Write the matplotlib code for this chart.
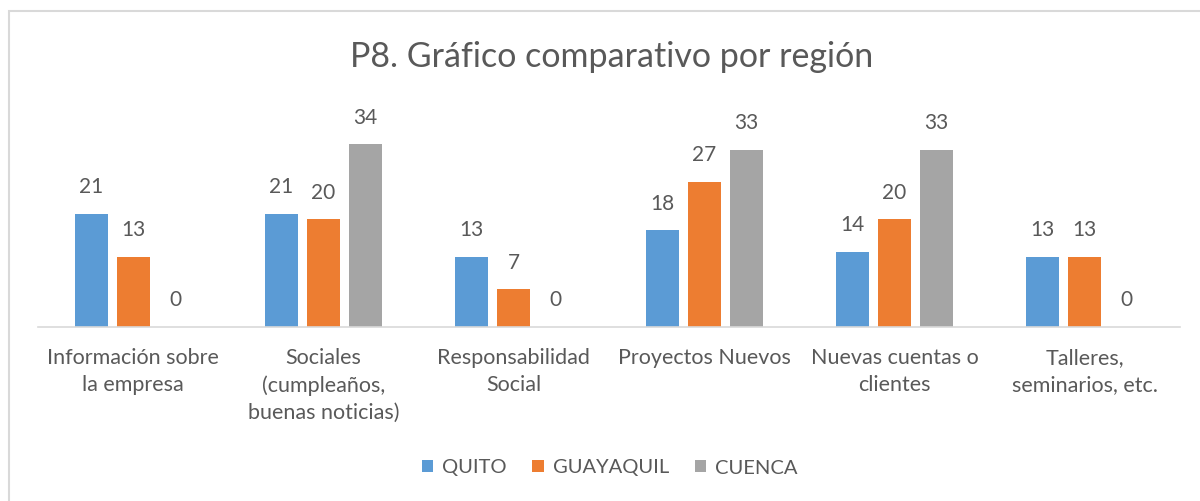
import matplotlib.pyplot as plt
import numpy as np
from matplotlib.patches import Rectangle

categorias = ['Información sobre\nla empresa', 'Sociales\n(cumpleaños,\nbuenas noticias)',
              'Responsabilidad\nSocial', 'Proyectos Nuevos', 'Nuevas cuentas o\nclientes',
              'Talleres,\nseminarios, etc.']
quito = [21, 21, 13, 18, 14, 13]
guayaquil = [13, 20, 7, 27, 20, 13]
cuenca = [0, 34, 0, 33, 33, 0]
series = ['QUITO', 'GUAYAQUIL', 'CUENCA']
colores = ['#5B9BD5', '#ED7D31', '#A5A5A5']

plt.rcParams['font.family'] = ['Lato', 'DejaVu Sans']
gris = '#595959'

fig = plt.figure(figsize=(12, 5.01), dpi=100)
fig.patches.append(Rectangle((9 / 1200, -0.1), 1.2, 1 - 11 / 501 + 0.1, transform=fig.transFigure,
                             fill=False, edgecolor='#D9D9D9', linewidth=1.5))
ax = fig.add_axes([38 / 1200, (501 - 327) / 501, 1142 / 1200, 215 / 501])

x = np.arange(len(categorias))
ancho = 33 / 190
paso = 42 / 190
for i, (vals, nombre, c) in enumerate(zip([quito, guayaquil, cuenca], series, colores)):
    barras = ax.bar(x + (i - 1) * paso, vals, ancho, color=c, label=nombre)
    for b, v in zip(barras, vals):
        ax.annotate(str(v), (b.get_x() + b.get_width() / 2, v), xytext=(0, 12),
                    textcoords='offset points', ha='center', va='bottom', fontsize=15, color=gris)

ax.set_xlim(-0.5, 5.5)
ax.set_ylim(0, 40)
ax.set_yticks([])
for s in ['top', 'right', 'left']:
    ax.spines[s].set_visible(False)
ax.spines['bottom'].set_color('#D9D9D9')
ax.spines['bottom'].set_linewidth(1.2)
ax.set_xticks(x)
ax.set_xticklabels(categorias, fontsize=15.5, color=gris, linespacing=1.45, va='top')
ax.tick_params(axis='x', length=0, pad=15)

fig.text(0.51, 1 - 57 / 501, 'P8. Gráfico comparativo por región', ha='center', va='center',
         fontsize=24.5, color=gris)
fig.legend(loc='center', bbox_to_anchor=(0.508, 1 - 468 / 501), ncol=3, frameon=False,
           fontsize=14.5, labelcolor=gris, handlelength=0.55, handleheight=0.55,
           handletextpad=0.45, columnspacing=1.3)

fig.savefig('out.png', dpi=100)
